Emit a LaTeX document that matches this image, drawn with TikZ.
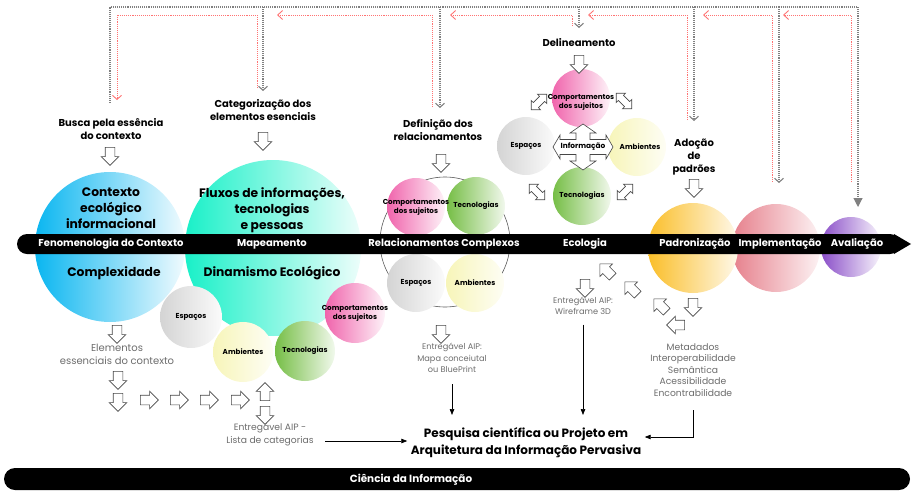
\documentclass[tikz,border=0pt]{standalone}
\usepackage{fontspec}
\setmainfont{Poppins}
\usetikzlibrary{shapes.arrows,arrows.meta,positioning}

\definecolor{azul}{RGB}{10,182,240}
\definecolor{agua}{RGB}{25,240,200}
\definecolor{cinza}{RGB}{212,212,212}
\definecolor{amar}{RGB}{247,245,185}
\definecolor{verde}{RGB}{118,190,70}
\definecolor{rosa}{RGB}{240,100,172}
\definecolor{laranja}{RGB}{250,190,40}
\definecolor{salmao}{RGB}{230,128,140}
\definecolor{roxo}{RGB}{138,78,200}

\begin{document}
\begin{tikzpicture}[x=1pt,y=-1pt,
    bub/.style={circle,inner sep=0pt,minimum size=#1},
    lbl/.style={text=white,font=\bfseries\fontsize{10}{11}\selectfont},
    hdr/.style={align=center,font=\bfseries\fontsize{10}{13}\selectfont},
    big/.style={align=center,font=\bfseries\fontsize{12.3}{16}\selectfont},
    sm/.style={align=center,font=\bfseries\fontsize{7.2}{9}\selectfont},
    gtxt/.style={align=center,text=gray!85!black,font=\fontsize{8.2}{11.5}\selectfont},
    blk/.style={single arrow,draw=gray!55!black,fill=white,line width=.6pt,
        minimum height=18pt,inner xsep=0pt,inner ysep=4.5pt,single arrow head extend=4pt},
    dbl/.style={double arrow,draw=gray!55!black,fill=white,line width=.6pt,
        minimum height=22pt,inner xsep=0pt,inner ysep=3.3pt,double arrow head extend=3pt},
    fwd/.style={gray,densely dotted,line width=1.1pt},
    bck/.style={red!55,densely dotted,line width=.9pt},
    ln/.style={-{Triangle[length=6pt,width=4.5pt]},line width=.7pt}]
\useasboundingbox (0,0) rectangle (912,490);

% fases: circulos
\node[bub=176pt,left color=agua,right color=agua!8] (fluxos) at (273,248) {};
\node[bub=150pt,left color=azul,right color=azul!6] (contexto) at (110,247) {};
\node[bub=62pt,left color=cinza,right color=cinza!10] (m_esp) at (191,317) {};
\node[bub=60pt,left color=amar,right color=amar!15] (m_amb) at (243,352) {};
\node[bub=60pt,left color=rosa,right color=rosa!8] (m_com) at (355,313) {};
\node[bub=60pt,left color=verde,right color=verde!10] (m_tec) at (305,351) {};

\draw[gray!70!black,line width=.6pt] (445,242) circle (65);
\node[bub=58pt,left color=rosa,right color=rosa!8] (r_com) at (416,207) {};
\node[bub=58pt,left color=verde,right color=verde!10] (r_tec) at (476,206) {};
\node[bub=58pt,left color=cinza,right color=cinza!10] (r_esp) at (416,283) {};
\node[bub=58pt,left color=amar,right color=amar!15] (r_amb) at (475,283) {};

\node[bub=58pt,left color=rosa,right color=rosa!8] (e_com) at (581,98) {};
\node[bub=58pt,left color=cinza,right color=cinza!10] (e_esp) at (526,146) {};
\node[bub=58pt,left color=amar,right color=amar!15] (e_amb) at (637,147) {};
\node[bub=58pt,left color=verde,right color=verde!10] (e_tec) at (582,196) {};

\node[bub=88pt,left color=salmao,right color=salmao!10] (implem) at (776,248) {};
\node[bub=90pt,left color=laranja,right color=laranja!10] (padron) at (693,248) {};
\node[bub=60pt,left color=roxo,right color=roxo!6] (aval) at (851,247) {};

% barras
\fill[rounded corners=10pt] (17,234) rectangle (900,254);
\fill (894,234) -- (911,244) -- (894,254) -- cycle;
\fill[rounded corners=11pt] (4,468) rectangle (910,490);

\node[lbl] (fen) at (111,244) {Fenomenologia do Contexto};
\node[lbl] (map) at (272,244) {Mapeamento};
\node[lbl] (rel) at (444,244) {Relacionamentos Complexos};
\node[lbl] (eco) at (585,244) {Ecologia};
\node[lbl] (pad) at (695,244) {Padronização};
\node[lbl] (imp) at (780,244) {Implementação};
\node[lbl] (ava) at (857,244) {Avaliação};
\node[lbl,font=\bfseries\fontsize{10.4}{11}\selectfont] (ci) at (411,480) {Ciência da Informação};

% textos dos circulos
\node[big] at (111,208) {Contexto\\ecológico\\informacional};
\node[big] at (114,273) {Complexidade};
\node[big] at (272,210) {Fluxos de informações,\\tecnologias\\e pessoas};
\node[big] at (272,273) {Dinamismo Ecológico};
\node[sm] at (m_esp) {Espaços};
\node[sm] at (m_amb) {Ambientes};
\node[sm] at (m_com) {Comportamentos\\dos sujeitos};
\node[sm] at (m_tec) {Tecnologias};
\node[sm] at (r_com) {Comportamentos\\dos sujeitos};
\node[sm] at (r_tec) {Tecnologias};
\node[sm] at (r_esp) {Espaços};
\node[sm] at (r_amb) {Ambientes};
\node[sm] at ([yshift=-4pt]e_com) {Comportamentos\\dos sujeitos};
\node[sm] at (e_esp) {Espaços};
\node[sm] at ([xshift=3pt]e_amb) {Ambientes};
\node[sm] at (e_tec) {Tecnologias};

% informacao
\draw[gray!55!black,fill=white,line width=.6pt] (583,147)
    ++(0,-23) -- ++(13,9) -- ++(-6,0) -- ++(0,6.5) -- ++(16,0) -- ++(0,-4.5)
    -- ++(7,12) -- ++(-7,12) -- ++(0,-4.5) -- ++(-16,0) -- ++(0,6.5) -- ++(6,0)
    -- ++(-13,9) -- ++(-13,-9) -- ++(6,0) -- ++(0,-6.5) -- ++(-16,0) -- ++(0,4.5)
    -- ++(-7,-12) -- ++(7,-12) -- ++(0,4.5) -- ++(16,0) -- ++(0,-6.5) -- ++(-6,0) -- cycle;
\node[sm,font=\bfseries\fontsize{7.4}{8}\selectfont] (info) at (583,147) {Informação};
\node[dbl,rotate=45] at (539,102) {};
\node[dbl,rotate=-45] at (624,101) {};
\node[dbl,rotate=-45] at (537,192) {};
\node[dbl,rotate=45] at (625,192) {};

% cabecalhos
\node[hdr] (busca) at (111,129) {Busca pela essência\\do contexto};
\node[hdr] (cat) at (263,110) {Categorização dos\\elementos esenciais};
\node[hdr] (def) at (438,130) {Definição dos\\relacionamentos};
\node[hdr] (del) at (579,43) {Delineamento};
\node[hdr] (ado) at (694,157) {Adoção\\de\\padrões};
\node[blk,rotate=-90] at (110,154) {};
\node[blk,rotate=-90] at (263,139) {};
\node[blk,rotate=-90] at (441,161) {};
\node[blk,rotate=-90] at (579,62) {};
\node[blk,rotate=-90] at (694,186) {};

% linhas pontilhadas do topo
\coordinate (g1) at (110,103);
\coordinate (g7) at (858,207);
\draw[fwd] (g1) -- (110,7) -- (858,7);
\draw[fwd,-{Triangle[length=9pt,width=9pt]}] (858,7) -- (g7);
\foreach \x/\y in {263/91,440/108,579/28,694/121,779/183}
    \draw[fwd,-{Straight Barb[length=4pt,width=9pt]}] (\x,7) -- (\x,\y);
\draw[bck,-{Straight Barb[length=4pt,width=9pt]}] (257,88) -- (257,15) -- (117,15) -- (117,100);
\foreach \a/\b/\c in {432/107/277,572/26/450,687/120/588,772/182/703,851/182/783}
    \draw[bck,-{Straight Barb[length=5pt,width=9pt]}] (\a,\b) -- (\a,15) -- (\c,15);

% parte de baixo
\node[blk,rotate=-90] at (117,332) {};
\node[gtxt,font=\fontsize{10}{13}\selectfont] (elem) at (117,354) {Elementos\\essenciais do contexto};
\node[blk,rotate=-90] at (118,378) {};
\node[blk,rotate=-90] at (118,400) {};
\foreach \x in {147,177,207,238}
    \node[blk] at (\x,400) {};
\node[blk,rotate=90] at (265,394) {};
\node[blk,rotate=-90] at (265,413) {};
\node[gtxt,font=\fontsize{9.2}{13}\selectfont] (lista) at (270,435) {Entregável AIP -\\Lista de categorias};

\node[blk,rotate=-90] at (441,332) {};
\node[gtxt] (mapa) at (452,358) {Entregável AIP:\\Mapa conceiutal\\ou BluePrint};

\node[blk,rotate=-90] at (585,286) {};
\node[gtxt] (wire) at (583,306) {Entregável AIP:\\Wireframe 3D};
\foreach \x/\y in {608/272,633/290,662/307}
    \node[blk,rotate=135] at (\x,\y) {};
\node[blk,rotate=180] at (678,325) {};
\node[blk,rotate=-90] at (693,305) {};
\node[gtxt,font=\fontsize{9.2}{11.6}\selectfont] (meta) at (693,370)
    {Metadados\\Interoperabilidade\\Semântica\\Acessibilidade\\Encontrabilidade};

\node[big,font=\bfseries\fontsize{12}{17}\selectfont] (pesq) at (526,443)
    {Pesquisa científica ou Projeto em\\Arquitetura da Informação Pervasiva};

\coordinate (la) at ([xshift=8pt,yshift=-6pt]lista.east);
\coordinate (ma) at ([yshift=-8pt]mapa.south);
\coordinate (wa) at ([yshift=-6pt]wire.south);
\coordinate (mt) at ([yshift=-10pt]meta.south);
\path[ln]
    (la) edge (la -| pesq.west)
    (ma) edge (ma |- 0,415)
    (wa) edge (wa |- 0,415)
    (mt) edge[to path={|- (\tikztotarget)}] ([yshift=6pt]pesq.east);
\end{tikzpicture}
\end{document}
